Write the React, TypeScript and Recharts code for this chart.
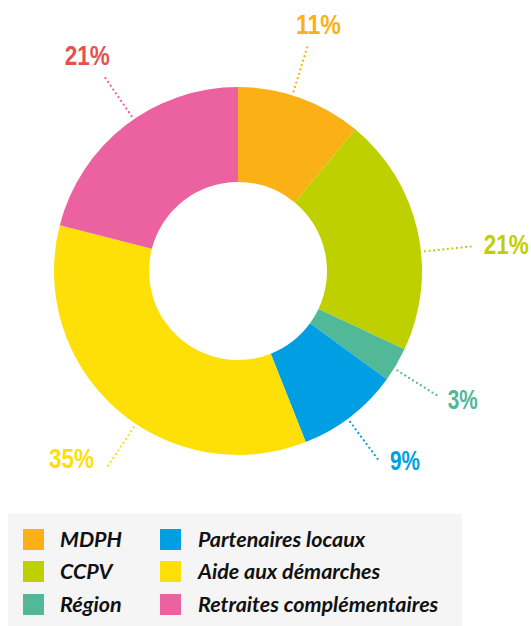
import React from 'react';
import { PieChart, Pie, Cell, Legend } from 'recharts';

const names = ['MDPH', 'CCPV', 'Région', 'Partenaires locaux', 'Aide aux démarches', 'Retraites complémentaires'];
const values = [11, 21, 3, 9, 35, 21];
const percentLabels = ['11%', '21%', '3%', '9%', '35%', '21%'];
const colors = ['#FBB116', '#BFD000', '#51B898', '#009FE3', '#FFDF08', '#EC619F'];
const labelColors = ['#FBB116', '#BFD000', '#51B898', '#009FE3', '#FFDF08', '#E3524F'];
// legend layout order: column, row
const legendCols = [[0, 1, 2], [3, 4, 5]];

const data = names.map((name, i) => ({ name, value: values[i] }));

const RAD = Math.PI / 180;
// leader-line angle nudges (deg) and text placement per slice
const leaderShift = [2.6, -6.6, -1.4, -1.2, 7.7, -3.3];
const textPlace = [
  { anchor: 'middle', dx: 10, dy: -19 },
  { anchor: 'start', dx: 9, dy: -2 },
  { anchor: 'start', dx: 8, dy: 2 },
  { anchor: 'start', dx: 10, dy: -2 },
  { anchor: 'end', dx: -12, dy: -11 },
  { anchor: 'middle', dx: -16, dy: -19 },
];

const renderLabel = (props: any) => {
  const { cx, cy, midAngle, outerRadius, index } = props;
  const a = (midAngle + leaderShift[index]) * RAD;
  const r1 = outerRadius + 4;
  const r2 = outerRadius + 54;
  const x1 = cx + r1 * Math.cos(-a);
  const y1 = cy + r1 * Math.sin(-a);
  const x2 = cx + r2 * Math.cos(-a);
  const y2 = cy + r2 * Math.sin(-a);
  const tp = textPlace[index];
  const txt = percentLabels[index];
  return (
    <g key={`lbl-${index}`}>
      <line
        x1={x1}
        y1={y1}
        x2={x2}
        y2={y2}
        stroke={colors[index]}
        strokeWidth={2.3}
        strokeLinecap="round"
        strokeDasharray="0 4.6"
      />
      <text
        x={x2 + tp.dx}
        y={y2 + tp.dy}
        textAnchor={tp.anchor as any}
        dominantBaseline="central"
        fill={labelColors[index]}
        fontFamily="'Liberation Sans', Arial, sans-serif"
        fontWeight={700}
        fontSize={28}
        textLength={txt.length * 15}
        lengthAdjust="spacingAndGlyphs"
      >
        {txt}
      </text>
    </g>
  );
};

const renderLegend = () => {
  const sqLeft = [15, 152];
  const txtLeft = [52, 190];
  const rowTop = [15, 47, 80];
  return (
    <div style={{ position: 'relative', width: 454, height: 112, background: '#F5F5F5' }}>
      {legendCols.map((col, c) =>
        col.map((idx, r) => (
          <React.Fragment key={idx}>
            <div
              style={{
                position: 'absolute',
                left: sqLeft[c],
                top: rowTop[r],
                width: 21,
                height: 21,
                background: colors[idx],
              }}
            />
            <div
              style={{
                position: 'absolute',
                left: txtLeft[c],
                top: rowTop[r] - 4,
                height: 28,
                lineHeight: '28px',
                fontFamily: "Lato, 'Noto Sans', sans-serif",
                fontStyle: 'italic',
                fontWeight: 700,
                fontSize: 21.5,
                color: '#111',
                whiteSpace: 'nowrap',
              }}
            >
              {names[idx]}
            </div>
          </React.Fragment>
        ))
      )}
    </div>
  );
};

export default function App() {
  return (
    <div style={{ position: 'fixed', left: 0, top: 0, width: 531, height: 626, background: '#fff' }}>
      <PieChart width={531} height={626} margin={{ top: 0, right: 0, bottom: 0, left: 0 }}>
        <Pie
          data={data}
          dataKey="value"
          nameKey="name"
          cx={238}
          cy={271}
          outerRadius={184}
          innerRadius={89}
          startAngle={90}
          endAngle={-270}
          stroke="none"
          label={renderLabel}
          labelLine={false}
          isAnimationActive={false}
        >
          {data.map((d, i) => (
            <Cell key={d.name} fill={colors[i]} />
          ))}
        </Pie>
        <Legend
          content={renderLegend}
          wrapperStyle={{ position: 'absolute', left: 8, top: 514, width: 454, height: 112 }}
        />
      </PieChart>
    </div>
  );
}
